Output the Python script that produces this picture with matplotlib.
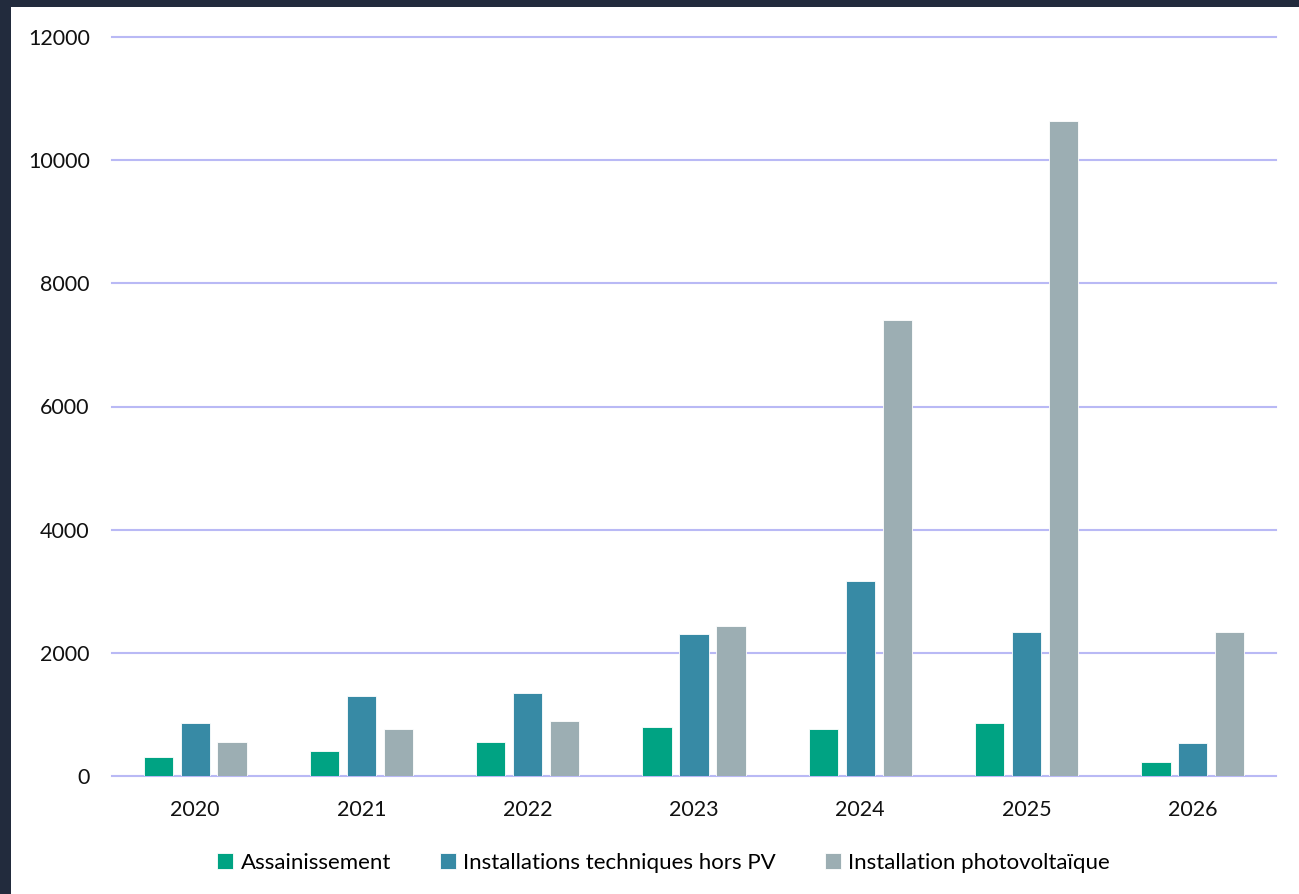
import numpy as np
import matplotlib.pyplot as plt
from matplotlib.patches import Rectangle

years = ["2020", "2021", "2022", "2023", "2024", "2025", "2026"]
assainissement = [313, 406, 552, 801, 758, 861, 227]
installations_tech = [861, 1294, 1343, 2306, 3172, 2338, 541]
photovoltaique = [547, 758, 888, 2436, 7405, 10632, 2344]

series = [
    ("Assainissement", assainissement, "#00a383"),
    ("Installations techniques hors PV", installations_tech, "#378aa5"),
    ("Installation photovoltaïque", photovoltaique, "#9caeb3"),
]

plt.rcParams['font.family'] = ['Lato', 'DejaVu Sans']

W, H = 1299, 894
fig = plt.figure(figsize=(W / 100, H / 100), dpi=100, facecolor="#222b3d")
# white panel inside the dark frame
fig.patches.append(Rectangle((11 / W, 0), 1 - 11 / W, 1 - 7 / H,
                             transform=fig.transFigure, facecolor="white",
                             edgecolor="none", zorder=-10))

ax = fig.add_axes([112 / W, 1 - 776 / H, (1276 - 112) / W, (776 - 37) / H])
ax.set_facecolor("none")

x = np.arange(len(years))
width = 0.176
step = 0.222
for i, (label, vals, color) in enumerate(series):
    ax.bar(x + (i - 1) * step, vals, width, color=color, label=label,
           edgecolor="white", linewidth=0.6, zorder=3)

ax.set_xlim(-0.5, len(years) - 0.5)
ax.set_ylim(0, 12000)
ax.set_yticks(range(0, 12001, 2000))
ax.set_xticks(x)
ax.set_xticklabels(years)
ax.grid(axis="y", color="#b9b9f5", linewidth=1.5, zorder=1)
for gl in ax.get_ygridlines():
    gl.set_clip_on(False)
ax.set_axisbelow(True)
for s in ax.spines.values():
    s.set_visible(False)
ax.tick_params(axis="both", length=0, labelsize=15.5, labelcolor="#111111")
ax.tick_params(axis="y", pad=16)
ax.tick_params(axis="x", pad=17)

ax.legend(loc="upper center", bbox_to_anchor=(0.474, -0.077), ncol=3,
          frameon=False, fontsize=16, handlelength=0.7, handleheight=0.7,
          handletextpad=0.35, columnspacing=2.2)

fig.savefig("out.png", dpi=100, facecolor=fig.get_facecolor())
